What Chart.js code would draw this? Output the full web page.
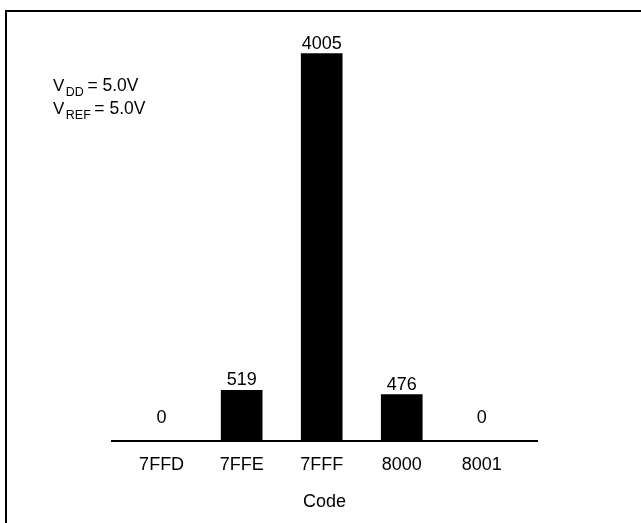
<!DOCTYPE html>
<html>
<head>
<meta charset="utf-8">
<script src="https://cdn.jsdelivr.net/npm/chart.js@4/dist/chart.umd.min.js"></script>
<style>
  body { margin: 0; background: #fff; overflow: hidden; }
  #wrap { position: relative; width: 641px; height: 523px; overflow: hidden; }
  #frame {
    position: absolute; left: 5px; top: 10px; width: 700px; height: 600px;
    border-left: 2px solid #000; border-top: 2px solid #000;
  }
  canvas { position: absolute; left: 0; top: 0; }
</style>
</head>
<body>
<div id="wrap">
  <div id="frame"></div>
  <canvas id="histChart" width="641" height="523"></canvas>
</div>
<script>
// Histogram of output codes
const codes = ["7FFD", "7FFE", "7FFF", "8000", "8001"];
const counts = [0, 519, 4005, 476, 0];
const xTitle = "Code";
const noteLines = [
   { sub: "DD", rest: "= 5.0V" },
   { sub: "REF", rest: "= 5.0V" },
];

const FONT = "'Liberation Sans', Arial, Helvetica, sans-serif";

// value labels above each bar
const valueLabels = {
   id: "valueLabels",
   afterDatasetsDraw(chart) {
      const ctx = chart.ctx;
      const meta = chart.getDatasetMeta(0);
      ctx.save();
      ctx.font = "18px " + FONT;
      ctx.fillStyle = "#000";
      ctx.textAlign = "center";
      ctx.textBaseline = "alphabetic";
      meta.data.forEach((bar, i) => {
         const top = Math.min(bar.y, bar.base - 13);
         ctx.fillText(String(counts[i]), bar.x, top - 5);
      });
      ctx.restore();
   },
};

// V_DD / V_REF note in the upper left
const supplyNote = {
   id: "supplyNote",
   afterDraw(chart) {
      const ctx = chart.ctx;
      ctx.save();
      ctx.fillStyle = "#000";
      ctx.textBaseline = "alphabetic";
      ctx.textAlign = "left";
      let y = 91;
      for (const line of noteLines) {
         let x = 53;
         ctx.font = "17px " + FONT;
         ctx.fillText("V", x, y);
         x += ctx.measureText("V").width + 1.5;
         ctx.font = "12.5px " + FONT;
         ctx.fillText(line.sub, x, y + 5);
         x += ctx.measureText(line.sub).width + 3.5;
         ctx.font = "17.5px " + FONT;
         ctx.fillText(line.rest, x, y);
         y += 22.5;
      }
      ctx.restore();
   },
};

const ctx = document.getElementById("histChart").getContext("2d");
new Chart(ctx, {
   type: "bar",
   data: {
      datasets: [
         {
            data: codes.map((c, i) => ({ x: i, y: counts[i] })),
            backgroundColor: "#000",
            borderWidth: 0,
            barThickness: 41,
         },
      ],
   },
   options: {
      responsive: false,
      animation: false,
      events: [],
      layout: {
         padding: { left: 112, right: 104, top: 30, bottom: 12 },
      },
      plugins: {
         legend: { display: false },
         tooltip: { enabled: false },
      },
      scales: {
         x: {
            type: "linear",
            offset: false,
            min: -0.62,
            max: 4.69,
            grid: { display: false, drawTicks: false },
            border: { display: true, color: "#000", width: 2 },
            afterBuildTicks: (axis) => {
               axis.ticks = codes.map((c, i) => ({ value: i }));
            },
            ticks: {
               autoSkip: false,
               maxRotation: 0,
               padding: 16,
               color: "#000",
               font: { family: FONT, size: 18, lineHeight: 1 },
               callback: (value) => codes[value] ?? "",
            },
            title: {
               display: true,
               text: xTitle,
               color: "#000",
               padding: { top: 2.5, bottom: 0 },
               font: { family: FONT, size: 18, lineHeight: 1 },
            },
         },
         y: {
            display: false,
            min: 0,
            max: 4250,
         },
      },
   },
   plugins: [valueLabels, supplyNote],
});
</script>
</body>
</html>
